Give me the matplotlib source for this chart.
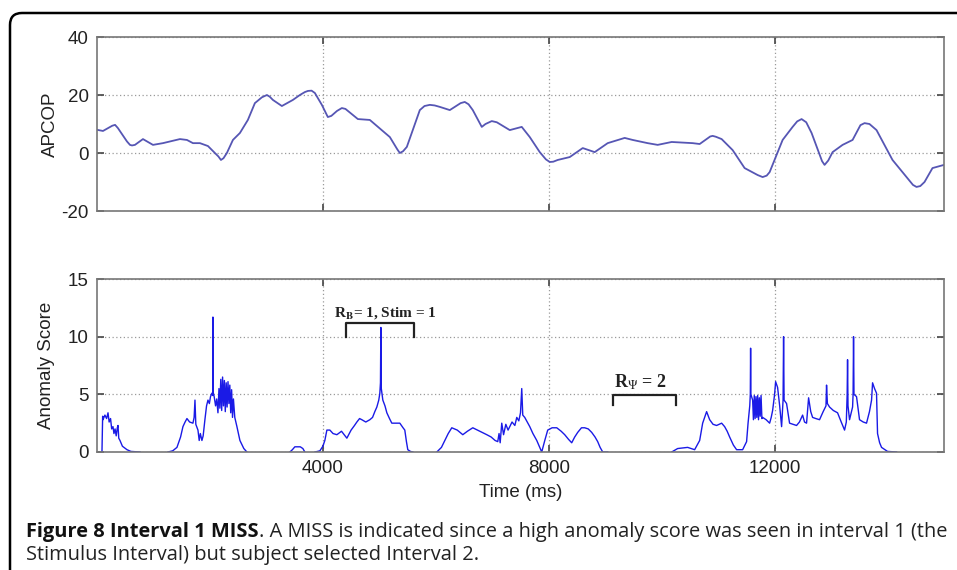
import numpy as np
import matplotlib
matplotlib.use('Agg')
import matplotlib.pyplot as plt
from matplotlib.path import Path
from matplotlib.patches import PathPatch

plt.rcParams['font.family'] = ['Liberation Sans', 'DejaVu Sans']
plt.rcParams['mathtext.fontset'] = 'stix'
plt.rcParams['axes.unicode_minus'] = False

# APCOP trace (top panel), (time ms, value)
apcop_points = [(0, 8.0), (106, 7.6), (270, 9.4), (320, 9.7), (370, 8.6), (530, 4.0), (584, 2.8),
                (620, 2.6), (672, 2.8), (814, 4.8), (991, 2.8), (1168, 3.4), (1469, 4.8),
                (1593, 4.5), (1699, 3.4), (1823, 3.4), (1965, 2.4), (2088, 0.0), (2150, -1.2),
                (2195, -2.4), (2240, -1.8), (2300, 0.0), (2407, 4.5), (2531, 6.9), (2672, 11.4),
                (2796, 17.2), (2920, 19.2), (3009, 20.0), (3060, 19.4), (3115, 18.3), (3274, 16.2),
                (3469, 18.3), (3593, 20.0), (3680, 21.0), (3735, 21.4), (3800, 21.5), (3858, 20.7),
                (3982, 16.6), (4088, 12.4), (4150, 12.8), (4250, 14.5), (4336, 15.5), (4400, 15.2),
                (4620, 11.7), (4832, 11.4), (5186, 5.5), (5320, 1.2), (5363, 0.0), (5420, 0.6),
                (5487, 2.1), (5717, 14.8), (5800, 16.2), (5894, 16.6), (5980, 16.4), (6071, 15.9),
                (6248, 14.8), (6440, 17.2), (6513, 17.6), (6580, 16.8), (6655, 14.8), (6814, 9.0),
                (6880, 10.0), (6991, 11.0), (7080, 10.6), (7310, 7.9), (7522, 9.0), (7664, 5.5),
                (7841, 0.3), (7950, -2.2), (8018, -3.1), (8080, -3.0), (8159, -2.4), (8372, -1.4),
                (8602, 1.7), (8814, 0.3), (9044, 3.4), (9345, 5.2), (9487, 4.5), (9752, 3.4),
                (9929, 2.8), (10177, 3.8), (10549, 3.4), (10673, 3.1), (10860, 5.7), (10903, 5.9),
                (10960, 5.6), (11062, 4.8), (11257, 1.0), (11469, -5.2), (11700, -7.6),
                (11788, -8.3), (11860, -7.8), (11912, -6.6), (12142, 4.5), (12319, 9.0),
                (12400, 10.9), (12478, 11.7), (12560, 10.6), (12655, 6.9), (12840, -2.8),
                (12885, -4.1), (12950, -2.6), (13027, 0.3), (13204, 2.8), (13381, 4.5),
                (13520, 9.6), (13593, 10.3), (13680, 10.0), (13805, 7.9), (14088, -2.4),
                (14265, -6.6), (14450, -11.0), (14513, -11.7), (14580, -11.4), (14655, -10.0),
                (14796, -5.2), (15000, -4.1)]
apcop_time = [p[0] for p in apcop_points]
apcop_value = [p[1] for p in apcop_points]

# anomaly score bursts (bottom panel), (time ms, score)
burst_1 = [(88, 0), (100, 3.1), (106, 2.8), (140, 3.2), (170, 2.9), (195, 3.4), (215, 2.6),
           (240, 2.9), (260, 2.0), (283, 2.2), (300, 1.6), (320, 2.0), (340, 1.4), (360, 2.1),
           (372, 2.3), (385, 1.2), (407, 1.0), (450, 0.5), (531, 0.2), (600, 0.05), (761, 0)]
burst_2 = [(1257, 0), (1340, 0.1), (1416, 0.4), (1480, 1.3), (1522, 2.2), (1560, 2.6),
           (1593, 2.9), (1640, 2.6), (1699, 2.5), (1720, 3.0), (1735, 4.5), (1750, 2.4),
           (1788, 1.9), (1810, 1.0), (1830, 1.6), (1858, 1.0), (1880, 1.4), (1911, 2.8),
           (1940, 4.0), (1965, 4.5), (1990, 4.2), (2010, 4.8), (2035, 5.1), (2050, 4.9),
           (2053, 11.7), (2056, 5.2), (2075, 4.8), (2100, 4.0), (2120, 4.6), (2142, 3.4),
           (2160, 5.5), (2176, 3.8), (2192, 6.3), (2208, 3.6), (2224, 6.5), (2240, 4.0),
           (2256, 6.2), (2272, 3.5), (2288, 6.0), (2304, 3.9), (2320, 6.1), (2336, 4.2),
           (2352, 5.8), (2368, 3.4), (2384, 5.4), (2400, 3.0), (2416, 4.6), (2440, 3.0),
           (2478, 2.2), (2531, 1.0), (2600, 0.3), (2655, 0)]
burst_3 = [(3416, 0), (3460, 0.2), (3504, 0.45), (3600, 0.45), (3646, 0.3), (3681, 0)]
burst_4 = [(3860, 0), (3947, 0.1), (4000, 0.5), (4035, 1.0), (4071, 1.9), (4124, 1.9),
           (4180, 1.6), (4248, 1.5), (4330, 1.8), (4425, 1.2), (4500, 1.9), (4560, 2.3),
           (4602, 2.6), (4650, 2.9), (4690, 2.8), (4760, 2.6), (4832, 2.8), (4880, 3.0),
           (4920, 3.5), (4956, 3.9), (4990, 4.5), (5009, 5.1), (5020, 6.0), (5027, 10.8),
           (5035, 5.5), (5062, 4.5), (5100, 4.0), (5133, 3.4), (5180, 2.9), (5221, 2.5),
           (5300, 2.5), (5363, 2.5), (5420, 2.1), (5451, 1.9), (5480, 0.9), (5504, 0.2),
           (5550, 0.05), (5593, 0)]
burst_5 = [(6018, 0), (6100, 0.4), (6159, 1.0), (6220, 1.6), (6283, 2.1), (6380, 1.9),
           (6478, 1.5), (6560, 1.8), (6655, 2.1), (6780, 1.8), (6903, 1.5), (6980, 1.3),
           (7050, 1.0), (7097, 0.9), (7120, 1.6), (7140, 0.8), (7168, 2.5), (7200, 1.5),
           (7240, 2.4), (7280, 1.9), (7310, 2.2), (7350, 2.6), (7400, 2.3), (7434, 3.0),
           (7470, 2.7), (7500, 3.4), (7522, 5.5), (7540, 3.2), (7575, 3.0), (7620, 2.6),
           (7664, 2.2), (7720, 1.6), (7788, 1.0), (7840, 0.4), (7876, 0), (7930, 1.0),
           (7982, 1.9), (8060, 2.1), (8142, 2.1), (8220, 1.8), (8283, 1.5), (8350, 1.1),
           (8407, 0.8), (8460, 1.3), (8513, 1.7), (8580, 2.1), (8637, 2.1), (8700, 2.0),
           (8761, 1.7), (8820, 1.3), (8867, 0.9), (8910, 0.4), (8956, 0), (9044, 0)]
burst_6 = [(10177, 0), (10283, 0.3), (10460, 0.4), (10584, 0.2), (10673, 1.0), (10726, 2.5),
           (10760, 3.0), (10796, 3.5), (10850, 2.8), (10910, 2.4), (10973, 2.3), (11062, 2.5),
           (11115, 2.2), (11160, 1.8), (11204, 1.3), (11270, 0.6), (11327, 0.2), (11434, 0.2),
           (11504, 0.9), (11530, 2.5), (11560, 4.0), (11570, 5.0), (11575, 9.0), (11580, 5.0),
           (11611, 4.5), (11625, 2.8), (11640, 4.9), (11655, 2.9), (11670, 4.8), (11685, 3.0),
           (11700, 4.9), (11715, 2.8), (11730, 4.7), (11745, 3.1), (11760, 4.9), (11775, 2.9),
           (11788, 3.0), (11850, 2.8), (11912, 2.5), (11940, 3.0), (11965, 3.6), (12000, 5.0),
           (12018, 6.1), (12053, 5.6), (12090, 4.0), (12124, 2.2), (12150, 4.5), (12159, 10.0),
           (12168, 4.5), (12212, 4.2), (12265, 2.5), (12330, 2.4), (12389, 2.3), (12440, 2.6),
           (12496, 3.2), (12530, 2.6), (12566, 2.5), (12602, 4.7), (12640, 3.5), (12673, 3.0),
           (12730, 2.9), (12796, 2.8), (12860, 3.5), (12910, 4.0), (12920, 5.8), (12935, 4.2),
           (12973, 3.9), (13040, 3.6), (13115, 3.4), (13180, 2.6), (13239, 1.9), (13270, 2.6),
           (13285, 5.0), (13292, 8.0), (13300, 4.0), (13327, 2.8), (13381, 3.9), (13390, 5.0),
           (13398, 10.0), (13406, 5.0), (13451, 4.8), (13504, 2.8), (13570, 2.6), (13628, 2.5),
           (13680, 3.5), (13717, 4.5), (13735, 6.0), (13770, 5.5), (13805, 5.1), (13823, 1.6),
           (13860, 0.8), (13894, 0.4), (14000, 0.05), (14159, 0)]
bursts = [burst_1, burst_2, burst_3, burst_4, burst_5, burst_6]

score_time, score_value = [], []
for b in bursts:
    score_time += [p[0] for p in b] + [np.nan]
    score_value += [p[1] for p in b] + [np.nan]

W, H = 957, 570
fig = plt.figure(figsize=(W / 100, H / 100), dpi=100)

def fx(px):
    return px / W

def fy(py):
    return 1 - py / H

ax1 = fig.add_axes([fx(97), fy(211), fx(847), 174 / H])
ax2 = fig.add_axes([fx(97), fy(452), fx(847), 173 / H])

ax1.plot(apcop_time, apcop_value, color='#5656b4', lw=1.3, solid_joinstyle='round')
ax2.plot(score_time, score_value, color='#1a1ae6', lw=1.0)

ax1.set_ylim(-20, 40)
ax1.set_yticks([-20, 0, 20, 40])
ax2.set_ylim(0, 15)
ax2.set_yticks([0, 5, 10, 15])

for ax in (ax1, ax2):
    ax.set_xlim(0, 15000)
    ax.set_xticks([4000, 8000, 12000])
    ax.grid(True, color='#9a9a9a', linestyle=(0, (1, 2)), linewidth=0.9)
    ax.tick_params(direction='in', length=5, width=1.2, color='#444444',
                   top=True, right=True, labelsize=13.5, labelcolor='#222222', pad=6)
    for s in ax.spines.values():
        s.set_color('#777777')
        s.set_linewidth(1.2)
ax1.set_xticklabels([])

ax1.set_ylabel('APCOP', fontsize=13.5, color='#222222', labelpad=2)
ax2.set_ylabel('Anomaly Score', fontsize=13.5, color='#222222', labelpad=9)
ax2.set_xlabel('Time (ms)', fontsize=13.5, color='#222222', labelpad=5)

# brackets
ax2.plot([4407, 4407, 5611, 5611], [10.0, 11.2, 11.2, 10.0], color='#222222', lw=1.6)
ax2.text(4195, 11.75, r'R$_\mathbf{B}$= 1, Stim = 1', fontsize=11, family='Liberation Serif',
         fontweight='bold', color='#222222')
ax2.plot([9133, 9133, 10248, 10248], [4.1, 4.9, 4.9, 4.1], color='#222222', lw=1.6)
ax2.text(9620, 5.6, r'R$_\Psi$ = 2', fontsize=13, family='Liberation Serif',
         fontweight='bold', color='#222222', ha='center')

# frame with rounded corner
verts = [(fx(10), 0), (fx(10), fy(25)), (fx(10), fy(13)), (fx(22), fy(13)), (1.0, fy(13))]
codes = [Path.MOVETO, Path.LINETO, Path.CURVE3, Path.CURVE3, Path.LINETO]
fig.add_artist(PathPatch(Path(verts, codes), transform=fig.transFigure,
                         fill=False, edgecolor='black', lw=1.8))

# caption
cap_font = ['Open Sans', 'DejaVu Sans']
cap_size = 14.4
t1 = fig.text(fx(26), fy(537), 'Figure 8 Interval 1 MISS', fontsize=cap_size, family=cap_font,
              fontweight='bold', color='#111111')
fig.canvas.draw()
bb = t1.get_window_extent()
fig.text(bb.x1 / fig.bbox.width, fy(537),
         '. A MISS is indicated since a high anomaly score was seen in interval 1 (the',
         fontsize=cap_size, family=cap_font, color='#222222')
fig.text(fx(26), fy(560), 'Stimulus Interval) but subject selected Interval 2.',
         fontsize=cap_size, family=cap_font, color='#222222')

fig.savefig('out.png', dpi=100)
